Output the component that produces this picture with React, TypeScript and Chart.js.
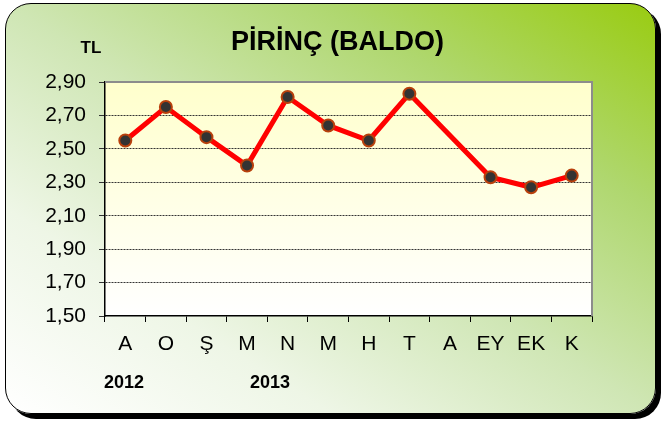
import React, { useEffect, useRef } from "react";
import { Chart, registerables } from "chart.js";

Chart.register(...registerables);

const categories = ["A", "O", "Ş", "M", "N", "M", "H", "T", "A", "EY", "EK", "K"];
const prices: (number | null)[] = [2.55, 2.75, 2.57, 2.4, 2.81, 2.64, 2.55, 2.83, null, 2.33, 2.27, 2.34];
const yMin = 1.5;
const yMax = 2.9;
const yStep = 0.2;
const titleText = "PİRİNÇ (BALDO)";
const unitText = "TL";
const yearLabels = ["2012", "2013"];

const FONT = "'Liberation Sans', Arial, Helvetica, sans-serif";

const plotBg = {
  id: "plotBg",
  beforeDraw(chart: any) {
    const { ctx, chartArea: a } = chart;
    const g = ctx.createLinearGradient(0, a.top, 0, a.bottom);
    g.addColorStop(0, "#ffffcc");
    g.addColorStop(1, "#ffffff");
    ctx.save();
    ctx.fillStyle = g;
    ctx.fillRect(a.left, a.top, a.right - a.left, a.bottom - a.top);
    ctx.restore();
  },
  beforeDatasetsDraw(chart: any) {
    const { ctx, chartArea: a } = chart;
    ctx.save();
    ctx.strokeStyle = "#8c8c8c";
    ctx.lineWidth = 2;
    ctx.beginPath();
    ctx.moveTo(a.left, a.top);
    ctx.lineTo(a.right, a.top);
    ctx.lineTo(a.right, a.bottom);
    ctx.stroke();
    ctx.restore();
  },
};

export default function App() {
  const ref = useRef<HTMLCanvasElement>(null);
  useEffect(() => {
    if (!ref.current) return;
    const chart = new Chart(ref.current, {
      type: "line",
      data: {
        labels: categories,
        datasets: [
          {
            data: prices,
            borderColor: "#ff0000",
            borderWidth: 5,
            pointRadius: 6,
            pointBackgroundColor: "#333333",
            pointBorderColor: "#b8400c",
            pointBorderWidth: 2,
            spanGaps: true,
            tension: 0,
          },
        ],
      },
      options: {
        animation: false,
        responsive: false,
        maintainAspectRatio: false,
        layout: { padding: { left: 0, top: 82, right: 70, bottom: 0 } },
        plugins: { legend: { display: false }, tooltip: { enabled: false }, title: { display: false } },
        scales: {
          x: {
            offset: true,
            grid: { offset: true, drawOnChartArea: false, tickLength: 6, tickColor: "#000", tickWidth: 1 },
            border: { color: "#000", width: 1.5 },
            ticks: { color: "#000", font: { family: FONT, size: 21 }, padding: 10, maxRotation: 0, autoSkip: false },
            afterFit(scale: any) {
              scale.height = 107;
            },
          },
          y: {
            min: yMin,
            max: yMax,
            grid: {
              color: (c: any) => (c.tick && (Math.abs(c.tick.value - yMax) < 1e-6 || Math.abs(c.tick.value - yMin) < 1e-6) ? "rgba(0,0,0,0)" : "#333"),
              tickColor: "#333",
              tickLength: 6,
              lineWidth: 1,
            },
            border: { color: "#000", width: 1.5, dash: [2, 1] },
            ticks: {
              stepSize: yStep,
              color: "#000",
              padding: 13,
              font: { family: FONT, size: 21 },
              callback: (v: any) => Number(v).toFixed(2).replace(".", ","),
            },
            afterFit(scale: any) {
              scale.width = 105;
            },
          },
        },
      },
      plugins: [plotBg],
    });
    return () => chart.destroy();
  }, []);

  return (
    <div style={{ position: "fixed", left: 0, top: 0, width: 662, height: 423, background: "#fff", fontFamily: FONT }}>
      <div
        style={{
          position: "absolute",
          left: 5,
          top: 3,
          width: 651,
          height: 411,
          boxSizing: "border-box",
          border: "1.5px solid #000",
          borderRadius: 26,
          boxShadow: "5px 5px 0 #000",
          background: "linear-gradient(to top right, #ffffff 0%, #eef6e6 25%, #cfe6b4 50%, #afd76e 75%, #99cc11 100%)",
        }}
      />
      <canvas ref={ref} width={662} height={423} style={{ position: "absolute", left: 0, top: 0 }} />
      <div style={{ position: "absolute", left: 231, width: 200, top: 25, textAlign: "center", fontWeight: "bold", fontSize: 27, whiteSpace: "nowrap", lineHeight: "32px" }}>
        {titleText}
      </div>
      <div style={{ position: "absolute", left: 71, width: 40, top: 38, textAlign: "center", fontWeight: "bold", fontSize: 17, lineHeight: "20px" }}>
        {unitText}
      </div>
      <div style={{ position: "absolute", left: 94, width: 60, top: 371, textAlign: "center", fontWeight: "bold", fontSize: 18, lineHeight: "22px" }}>
        {yearLabels[0]}
      </div>
      <div style={{ position: "absolute", left: 240, width: 60, top: 371, textAlign: "center", fontWeight: "bold", fontSize: 18, lineHeight: "22px" }}>
        {yearLabels[1]}
      </div>
    </div>
  );
}
